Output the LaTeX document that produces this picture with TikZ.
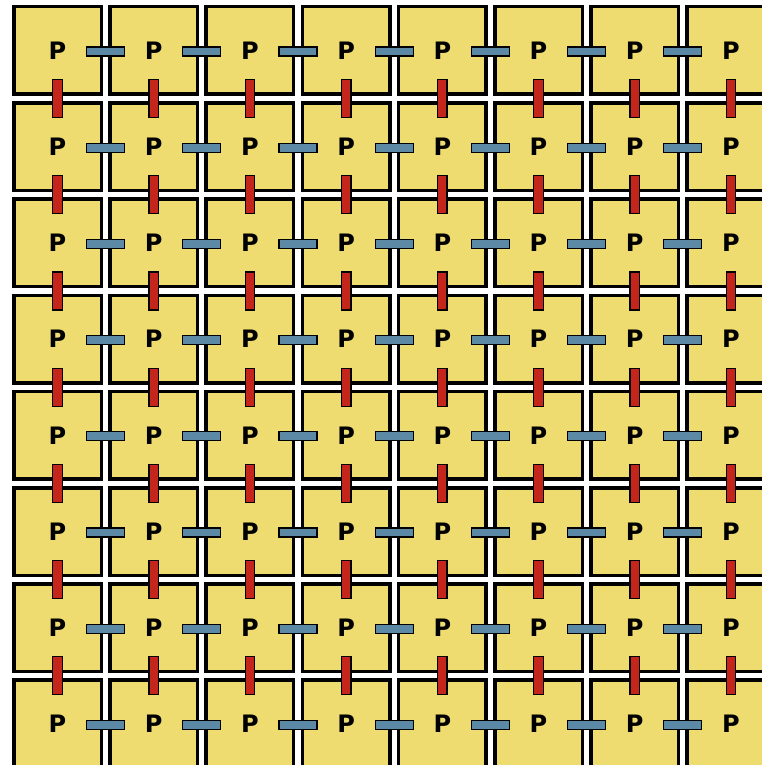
\documentclass[tikz,border=0pt]{standalone}
\usepackage{fontspec}
\setsansfont{DejaVu Sans}
\usepackage{tikz}
\usetikzlibrary{calc}
\definecolor{TileYellow}{RGB}{238,220,112}
\definecolor{LinkBlue}{RGB}{92,138,166}
\definecolor{LinkRed}{RGB}{196,38,28}

\begin{document}
\begin{tikzpicture}[x=1pt,y=-1pt]
  \useasboundingbox (0,0) rectangle (762,765);
  \clip (0,0) rectangle (762,765);
  % tiles
  \foreach \i in {0,...,7}
    \foreach \j in {0,...,7}
      \node[draw=black,fill=TileYellow,line width=3.5pt,minimum size=87.5pt,inner sep=0pt,font=\sffamily\bfseries\fontsize{24}{24}\selectfont] (t-\i-\j) at (57.5+96.2*\i,50.5+96.2*\j) {P};
  % horizontal links
  \foreach \i in {0,...,6}
    \foreach \j in {0,...,7}
      \node[draw=black,fill=LinkBlue,line width=1.3pt,minimum width=38pt,minimum height=9pt,inner sep=0pt] (h-\i-\j) at ($(t-\i-\j)+(48.1,1)$) {};
  % vertical links
  \foreach \i in {0,...,7}
    \foreach \j in {0,...,6}
      \node[draw=black,fill=LinkRed,line width=1.3pt,minimum width=9.5pt,minimum height=38pt,inner sep=0pt] (v-\i-\j) at ($(t-\i-\j)+(0,48.1)$) {};
\end{tikzpicture}
\end{document}
